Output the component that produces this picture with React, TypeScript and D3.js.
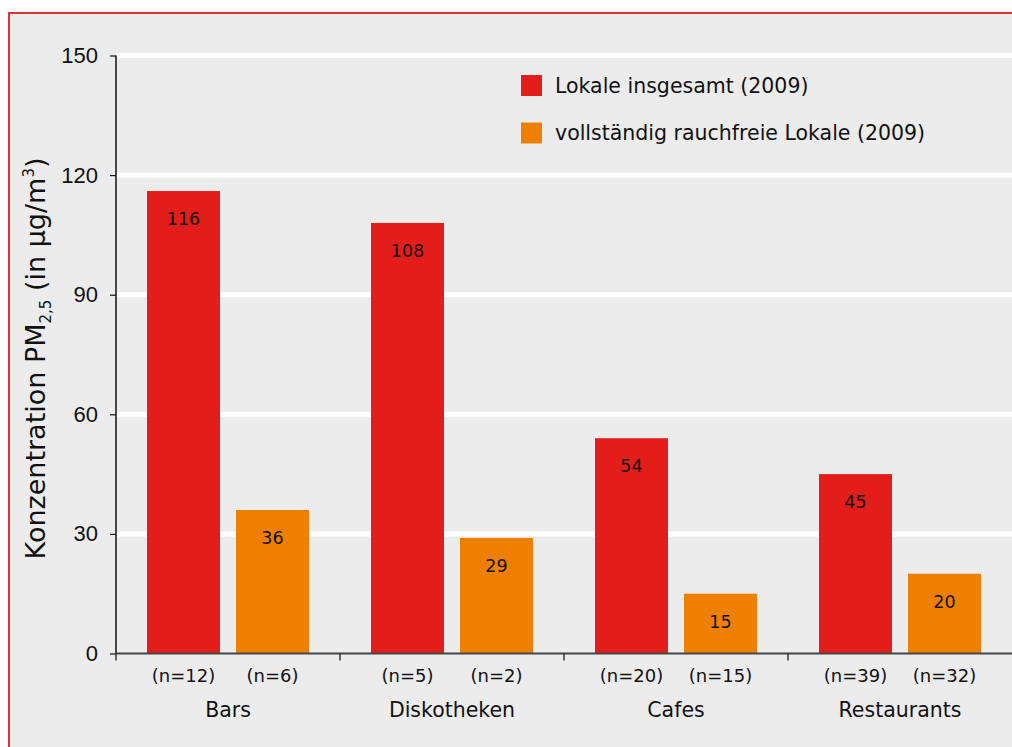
import React, { useEffect, useRef } from 'react';
import * as d3 from 'd3';

const categories = ['Bars', 'Diskotheken', 'Cafes', 'Restaurants'];
const seriesNames = ['Lokale insgesamt (2009)', 'vollständig rauchfreie Lokale (2009)'];
const totalValues = [116, 108, 54, 45];
const smokeFreeValues = [36, 29, 15, 20];
const totalCounts = ['(n=12)', '(n=5)', '(n=20)', '(n=39)'];
const smokeFreeCounts = ['(n=6)', '(n=2)', '(n=15)', '(n=32)'];
const yTicks = [0, 30, 60, 90, 120, 150];

const RED = '#e31d1a';
const ORANGE = '#ee7f00';
const FONT = '"DejaVu Sans", Verdana, sans-serif';
const TICK_FONT = '"Liberation Sans", Arial, sans-serif';

export default function App() {
    const svgRef = useRef<SVGSVGElement>(null);

    const width = 1012;
    const height = 747;
    const margin = { top: 55.5, right: 0, bottom: 93.5, left: 116 };

    useEffect(() => {
        if (!svgRef.current) return;
        const svg = d3.select(svgRef.current);
        svg.selectAll('*').remove();

        // panel background with red top/left rule
        svg.append('rect').attr('x', 10).attr('y', 14).attr('width', width - 10).attr('height', height - 14).attr('fill', '#ececec');
        svg.append('rect').attr('x', 8).attr('y', 12).attr('width', width - 8).attr('height', 2).attr('fill', '#e2303c');
        svg.append('rect').attr('x', 8).attr('y', 12).attr('width', 2).attr('height', height - 12).attr('fill', '#e2303c');

        const x0 = d3.scaleBand().domain(categories).range([margin.left, width - margin.right]).paddingInner(0).paddingOuter(0);
        const x1 = d3.scaleBand().domain(['total', 'free']).range([31, x0.bandwidth() - 31]).paddingInner(16 / 89);
        const y = d3.scaleLinear().domain([0, 150]).range([height - margin.bottom, margin.top]);

        // white gridlines
        svg.append('g').selectAll('line').data(yTicks.filter(t => t > 0)).enter().append('line')
            .attr('x1', margin.left).attr('x2', width)
            .attr('y1', d => y(d)).attr('y2', d => y(d))
            .attr('stroke', '#ffffff').attr('stroke-width', 5);

        const rows = categories.map((c, i) => ({
            c,
            bars: [
                { key: 'total', v: totalValues[i], n: totalCounts[i], color: RED },
                { key: 'free', v: smokeFreeValues[i], n: smokeFreeCounts[i], color: ORANGE },
            ],
        }));

        const groups = svg.append('g').selectAll('g').data(rows).enter().append('g')
            .attr('transform', d => `translate(${x0(d.c)},0)`);

        groups.selectAll('rect').data(d => d.bars).enter().append('rect')
            .attr('x', d => x1(d.key)!)
            .attr('y', d => y(d.v))
            .attr('width', x1.bandwidth())
            .attr('height', d => y(0) - y(d.v))
            .attr('fill', d => d.color);

        groups.selectAll('text.val').data(d => d.bars).enter().append('text')
            .attr('class', 'val')
            .attr('x', d => x1(d.key)! + x1.bandwidth() / 2)
            .attr('y', d => y(d.v) + 34)
            .attr('text-anchor', 'middle')
            .attr('font-family', FONT).attr('font-size', 17.5).attr('fill', '#111')
            .text(d => d.v);

        groups.selectAll('text.n').data(d => d.bars).enter().append('text')
            .attr('class', 'n')
            .attr('x', d => x1(d.key)! + x1.bandwidth() / 2)
            .attr('y', y(0) + 28.5)
            .attr('text-anchor', 'middle')
            .attr('font-family', FONT).attr('font-size', 18).attr('fill', '#111')
            .text(d => d.n);

        groups.append('text')
            .attr('x', x0.bandwidth() / 2)
            .attr('y', y(0) + 63.5)
            .attr('text-anchor', 'middle')
            .attr('font-family', FONT).attr('font-size', 20.5).attr('fill', '#111')
            .text(d => d.c);

        // y axis
        const yAxis = svg.append('g').attr('transform', `translate(${margin.left},0)`)
            .call(d3.axisLeft(y).tickValues(yTicks).tickSize(6).tickPadding(12));
        yAxis.select('.domain').attr('stroke', '#111').attr('stroke-width', 1.5).attr('d', `M0,${y(0)}V${y(150)}`);
        yAxis.selectAll('.tick line').attr('stroke', '#111').attr('stroke-width', 1.2);
        yAxis.selectAll('.tick text').attr('font-family', TICK_FONT).attr('font-size', 22).attr('fill', '#111');

        // x axis
        svg.append('line').attr('x1', margin.left).attr('x2', width).attr('y1', y(0)).attr('y2', y(0))
            .attr('stroke', '#444').attr('stroke-width', 2);
        svg.append('g').selectAll('line').data(categories).enter().append('line')
            .attr('x1', d => x0(d)!).attr('x2', d => x0(d)!)
            .attr('y1', y(0)).attr('y2', y(0) + 7)
            .attr('stroke', '#333').attr('stroke-width', 1.5);

        // y title
        const title = svg.append('text')
            .attr('transform', `translate(45,${y(75) + 4}) rotate(-90)`)
            .attr('text-anchor', 'middle')
            .attr('font-family', FONT).attr('font-size', 27).attr('fill', '#111');
        title.append('tspan').text('Konzentration PM');
        title.append('tspan').attr('font-size', 15).attr('dy', 6).text('2,5');
        title.append('tspan').attr('dy', -6).text('\u00a0(in µg/m');
        title.append('tspan').attr('font-size', 15).attr('dy', -11).text('3');
        title.append('tspan').attr('dy', 11).text(')');

        // legend
        const legend = svg.append('g').attr('transform', 'translate(521,75)');
        const items = legend.selectAll('g').data(seriesNames).enter().append('g')
            .attr('transform', (d, i) => `translate(0,${i * 47.5})`);
        items.append('rect').attr('width', 21).attr('height', 21).attr('fill', (d, i) => (i === 0 ? RED : ORANGE));
        items.append('text').attr('x', 34).attr('y', 17.5)
            .attr('font-family', FONT).attr('font-size', 20.5).attr('fill', '#111')
            .text(d => d);
    }, []);

    return (
        <div style={{ position: 'absolute', left: 0, top: 0 }}>
            <svg ref={svgRef} width={width} height={height} style={{ display: 'block', background: '#fff' }} />
        </div>
    );
}
